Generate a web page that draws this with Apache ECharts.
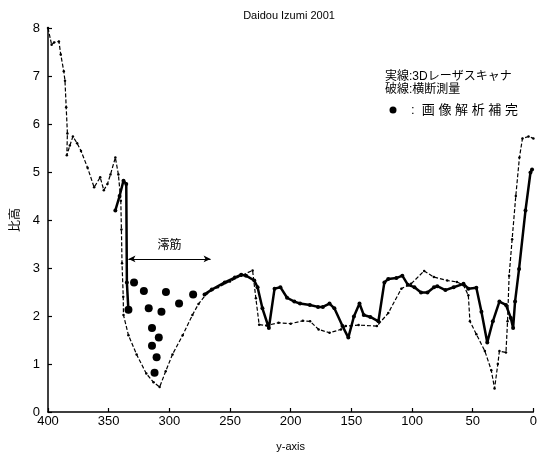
<!DOCTYPE html>
<html>
<head>
<meta charset="utf-8">
<script src="https://cdn.jsdelivr.net/npm/echarts@6/dist/echarts.min.js"></script>
<style>
  html, body { margin: 0; padding: 0; background: #fff; }
  #chart { width: 540px; height: 457px; }
</style>
</head>
<body>
<div id="chart"></div>
<script>
// Cross-section survey profile (dashed): [distance, relative height]
const surveyProfile = [
  [400, 8.0], [397, 7.65], [395, 7.7], [391, 7.72], [389.5, 7.45], [387, 7.1],
  [386, 6.9], [385, 6.35], [384, 5.8], [384.5, 5.35], [382, 5.55], [379.5, 5.74],
  [376, 5.6], [372.8, 5.44], [367.4, 5.09], [362, 4.68], [357, 4.89], [354, 4.62],
  [351, 4.75], [348.5, 4.95], [344.5, 5.3], [342, 4.95], [340, 4.4], [339.5, 3.8],
  [339, 3.1], [338, 2.4], [337.8, 2.02], [333.7, 1.6], [327, 1.2], [319, 0.8],
  [313, 0.62], [308, 0.52], [303, 0.85], [297.4, 1.2], [289, 1.6], [281, 2.02],
  [276, 2.25], [269, 2.47], [260, 2.6], [250, 2.72], [240.8, 2.84], [231.4, 2.95],
  [228.7, 2.37], [226, 1.82], [220, 1.8], [210, 1.86], [200, 1.84], [190, 1.9],
  [184, 1.89], [177, 1.72], [168, 1.65], [158.6, 1.72], [154.6, 1.79], [144, 1.81],
  [129, 1.79], [119.6, 2.06], [108.8, 2.57], [100.8, 2.67], [90, 2.94], [82, 2.81],
  [71, 2.74], [63, 2.71], [57.6, 2.64], [53.6, 2.43], [52.3, 1.89], [47, 1.62],
  [40, 1.27], [34.7, 0.87], [32, 0.49], [29.3, 1.0], [28, 1.27], [22.6, 1.24],
  [21.3, 1.89], [20, 2.84], [17.5, 3.6], [14.5, 4.5], [11.5, 5.3], [9, 5.7],
  [4, 5.74], [0, 5.7]
];

// 3D laser scanner profile (solid), left bank segment
const laserLeft = [
  [344.5, 4.2], [341, 4.5], [337.8, 4.82], [335.5, 4.75], [335, 2.7], [333.7, 2.1]
];

// 3D laser scanner profile (solid), main segment
const laserRight = [
  [271, 2.45], [265, 2.55], [254.3, 2.7], [246, 2.8], [240.8, 2.86], [236.8, 2.84],
  [230, 2.74], [227.3, 2.6], [223.3, 2.16], [218, 1.75], [213.3, 2.57], [208.5, 2.6],
  [203, 2.38], [197, 2.3], [192.3, 2.26], [184.2, 2.23], [177.5, 2.19], [173.5, 2.19],
  [168, 2.26], [164, 2.16], [157.3, 1.79], [152.5, 1.55], [147.9, 1.99], [143.3, 2.26],
  [139.8, 2.02], [134.4, 1.98], [127.7, 1.89], [122.8, 2.7], [119.6, 2.77], [112.9, 2.79],
  [108, 2.84], [103.4, 2.65], [98, 2.6], [92.6, 2.49], [87.3, 2.49], [81.9, 2.6],
  [79.2, 2.62], [72.5, 2.54], [65.7, 2.6], [57.6, 2.67], [53.6, 2.57], [47, 2.59],
  [42.8, 2.09], [38, 1.45], [33.4, 1.89], [28, 2.3], [22.6, 2.23], [18.6, 1.96],
  [16.7, 1.75], [15.1, 2.3], [11.8, 2.98], [6.5, 4.2], [2.4, 4.99], [1.1, 5.05]
];

// Points filled in by image analysis
const imageDotsX = [333.7, 329.1, 321, 317, 314.3, 314.3, 312.2, 310.5, 308.7, 306.5, 302.8, 292, 280.4];
const imageDotsY = [2.13, 2.7, 2.52, 2.16, 1.75, 1.38, 0.82, 1.14, 1.55, 2.09, 2.5, 2.26, 2.45];

// Thalweg span marker
const thalwegSpan = [333.7, 266];
const thalwegLevel = 3.19;

const chartTitle = 'Daidou Izumi 2001';
const legendLines = ['実線:3Dレーザスキャナ', '破線:横断測量'];
const dotLegendText = ':  画 像 解 析 補 完';

const narrow = '"Liberation Sans Narrow", "Liberation Sans", Arial, sans-serif';
const cjk = '"Liberation Sans", "Noto Sans CJK JP", sans-serif';

const chart = echarts.init(document.getElementById('chart'), null, { renderer: 'canvas' });

chart.setOption({
  animation: false,
  backgroundColor: '#fff',
  grid: { left: 43, right: 2, top: 28, bottom: 38 },
  xAxis: {
    type: 'value', min: 0, max: 400, interval: 50, inverse: true,
    name: 'y-axis', nameLocation: 'middle', nameGap: 29,
    nameTextStyle: { color: '#000', fontSize: 11, fontFamily: 'Liberation Sans, Arial, sans-serif' },
    axisLine: { onZero: false, lineStyle: { color: '#000', width: 1.5 } },
    axisTick: { inside: true, length: 4, lineStyle: { color: '#000', width: 1.2 } },
    axisLabel: { color: '#000', fontSize: 13, margin: 3, fontFamily: narrow },
    splitLine: { show: false }
  },
  yAxis: {
    type: 'value', min: 0, max: 8, interval: 1, position: 'left',
    name: '比高', nameLocation: 'middle', nameGap: 28, nameRotate: 90,
    nameTextStyle: { color: '#000', fontSize: 12, fontFamily: '"Noto Sans CJK JP", sans-serif' },
    axisLine: { onZero: false, lineStyle: { color: '#000', width: 1.5 } },
    axisTick: { inside: true, length: 4, lineStyle: { color: '#000', width: 1.2 } },
    axisLabel: { color: '#000', fontSize: 13, margin: 8, fontFamily: narrow },
    splitLine: { show: false }
  },
  series: [
    {
      type: 'line', data: surveyProfile,
      symbol: 'circle', symbolSize: 2.5, showSymbol: true,
      itemStyle: { color: '#000' },
      lineStyle: { color: '#000', width: 1.2, type: [4, 2] }
    },
    {
      type: 'line', data: laserLeft,
      symbol: 'circle', symbolSize: 4,
      itemStyle: { color: '#000' },
      lineStyle: { color: '#000', width: 2.5 },
      markLine: {
        silent: true,
        symbol: ['arrow', 'arrow'], symbolSize: [5, 7],
        lineStyle: { color: '#000', width: 1, type: 'solid' },
        label: {
          show: true, position: 'middle', formatter: '澪筋', distance: 8,
          color: '#000', fontSize: 12, fontFamily: '"Noto Sans CJK JP", sans-serif'
        },
        data: [[
          { coord: [thalwegSpan[0], thalwegLevel] },
          { coord: [thalwegSpan[1], thalwegLevel] }
        ]]
      }
    },
    {
      type: 'line', data: laserRight,
      symbol: 'circle', symbolSize: 4,
      itemStyle: { color: '#000' },
      lineStyle: { color: '#000', width: 2.5 }
    },
    {
      type: 'scatter',
      data: imageDotsX.map((x, i) => [x, imageDotsY[i]]),
      symbol: 'circle', symbolSize: 8,
      itemStyle: { color: '#000', opacity: 1 }
    }
  ],
  graphic: [
    {
      type: 'text', x: 289, y: 16,
      style: { text: chartTitle, fill: '#000', fontSize: 11, fontFamily: 'Liberation Sans, Arial, sans-serif',
               textAlign: 'center', textVerticalAlign: 'middle' }
    },
    {
      type: 'text', x: 385, y: 77,
      style: { text: legendLines[0], fill: '#000', fontSize: 12, fontFamily: cjk,
               textAlign: 'left', textVerticalAlign: 'middle' }
    },
    {
      type: 'text', x: 385, y: 90,
      style: { text: legendLines[1], fill: '#000', fontSize: 12, fontFamily: cjk,
               textAlign: 'left', textVerticalAlign: 'middle' }
    },
    {
      type: 'circle', shape: { cx: 393, cy: 110, r: 3.5 },
      style: { fill: '#000' }
    },
    {
      type: 'text', x: 411, y: 110,
      style: { text: dotLegendText, fill: '#000', fontSize: 13, fontFamily: cjk,
               textAlign: 'left', textVerticalAlign: 'middle' }
    }
  ]
});
</script>
</body>
</html>
